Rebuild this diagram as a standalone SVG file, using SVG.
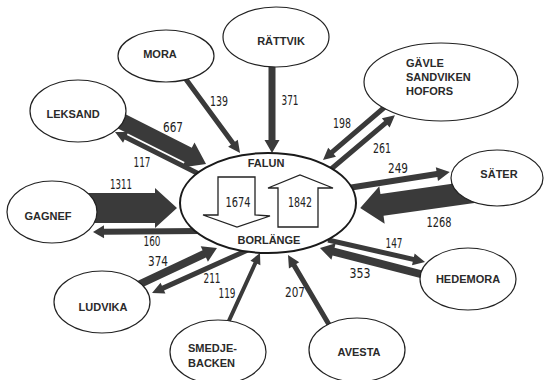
<svg xmlns="http://www.w3.org/2000/svg" width="546" height="380" viewBox="0 0 546 380">
<style>
.bg{fill:#fff}
.node{fill:#fff;stroke:#222;stroke-width:1.2}
.hub{fill:#fff;stroke:#1a1a1a;stroke-width:2}
.arr{fill:#3a3a3a}
.inner{fill:#fff;stroke:#222;stroke-width:1.3}
.lbl{font-family:"Liberation Sans",Arial,sans-serif;font-weight:bold;font-size:11px;fill:#2a2a2a;text-anchor:middle}
.lbll{font-family:"Liberation Sans",Arial,sans-serif;font-weight:bold;font-size:11px;fill:#2a2a2a}
.num{font-family:"Liberation Sans Narrow","DejaVu Sans Condensed","Liberation Sans",sans-serif;font-size:14px;fill:#222;text-anchor:middle}
</style>
<rect class="bg" x="0" y="0" width="546" height="380"/>
<g id="connectors">
  <polygon class="arr" transform="translate(185,78) rotate(53.7)" points="0,-2.5 81,-2.5 81,-6 93,0 81,6 81,2.5 0,2.5"/>
  <polygon class="arr" transform="translate(272,62) rotate(90)" points="0,-3.5 78,-3.5 78,-7.5 91,0 78,7.5 78,3.5 0,3.5"/>
  <polygon class="arr" transform="translate(386,106) rotate(139.4)" points="0,-2.5 71,-2.5 71,-6 83,0 71,6 71,2.5 0,2.5"/>
  <polygon class="arr" transform="translate(330,170) rotate(-40.2)" points="0,-2.5 73,-2.5 73,-6 85,0 73,6 73,2.5 0,2.5"/>
  <polygon class="arr" transform="translate(348,188) rotate(-8.9)" points="0,-3 90,-3 90,-7 103,0 90,7 90,3 0,3"/>
  <polygon class="arr" transform="translate(480,191) rotate(171.9)" points="0,-11 99,-11 99,-19 121,0 99,19 99,11 0,11"/>
  <polygon class="arr" transform="translate(328,240) rotate(12.8)" points="0,-2.5 87.5,-2.5 87.5,-6 99.5,0 87.5,6 87.5,2.5 0,2.5"/>
  <polygon class="arr" transform="translate(432,277) rotate(-165.5)" points="0,-4 101.7,-4 101.7,-8.5 115.7,0 101.7,8.5 101.7,4 0,4"/>
  <polygon class="arr" transform="translate(331,328) rotate(-120.5)" points="0,-2.5 72.7,-2.5 72.7,-6 84.7,0 72.7,6 72.7,2.5 0,2.5"/>
  <polygon class="arr" transform="translate(227,325) rotate(-65.4)" points="0,-2 68.2,-2 68.2,-5.5 79.2,0 68.2,5.5 68.2,2 0,2"/>
  <polygon class="arr" transform="translate(250,249) rotate(155.8)" points="0,-2.5 95.4,-2.5 95.4,-6 107.4,0 95.4,6 95.4,2.5 0,2.5"/>
  <polygon class="arr" transform="translate(138,285) rotate(-25.1)" points="0,-4 73.2,-4 73.2,-8.5 87.2,0 73.2,8.5 73.2,4 0,4"/>
  <polygon class="arr" transform="translate(200,231) rotate(179.5)" points="0,-3 96,-3 96,-6.5 107,0 96,6.5 96,3 0,3"/>
  <polygon class="arr" transform="translate(80,208)" points="0,-15 75,-15 75,-20 97,0 75,20 75,15 0,15"/>
  <polygon class="arr" transform="translate(115,118) rotate(26.8)" points="0,-8 82,-8 82,-14 102,0 82,14 82,8 0,8"/>
  <polygon class="arr" transform="translate(203,176) rotate(-153.4)" points="0,-2.5 86.4,-2.5 86.4,-6 98.4,0 86.4,6 86.4,2.5 0,2.5"/>
  <text class="num" x="219" y="106" textLength="18" lengthAdjust="spacingAndGlyphs">139</text>
  <text class="num" x="290" y="105" textLength="17" lengthAdjust="spacingAndGlyphs">371</text>
  <text class="num" x="173" y="132" textLength="20" lengthAdjust="spacingAndGlyphs">667</text>
  <text class="num" x="142" y="167" textLength="17" lengthAdjust="spacingAndGlyphs">117</text>
  <text class="num" x="121" y="189" textLength="22" lengthAdjust="spacingAndGlyphs">1311</text>
  <text class="num" x="152" y="246" textLength="17" lengthAdjust="spacingAndGlyphs">160</text>
  <text class="num" x="342" y="128" textLength="18" lengthAdjust="spacingAndGlyphs">198</text>
  <text class="num" x="382" y="153" textLength="18" lengthAdjust="spacingAndGlyphs">261</text>
  <text class="num" x="398" y="173" textLength="20" lengthAdjust="spacingAndGlyphs">249</text>
  <text class="num" x="439" y="227" textLength="25" lengthAdjust="spacingAndGlyphs">1268</text>
  <text class="num" x="394" y="248" textLength="17" lengthAdjust="spacingAndGlyphs">147</text>
  <text class="num" x="360" y="278" textLength="21" lengthAdjust="spacingAndGlyphs">353</text>
  <text class="num" x="295" y="297" textLength="20" lengthAdjust="spacingAndGlyphs">207</text>
  <text class="num" x="227" y="298" textLength="17" lengthAdjust="spacingAndGlyphs">119</text>
  <text class="num" x="212" y="283" textLength="17" lengthAdjust="spacingAndGlyphs">211</text>
  <text class="num" x="158" y="266" textLength="20" lengthAdjust="spacingAndGlyphs">374</text>
</g>
<g id="falun-borlange">
  <ellipse class="hub" cx="268" cy="203" rx="88" ry="50"/>
  <text class="lbl" x="266" y="167">FALUN</text>
  <text class="lbl" x="269" y="244">BORLÄNGE</text>
  <polygon class="inner" points="218,177 255,177 255,215 270,216 237,227 203,215 218,215"/>
  <polygon class="inner" points="278,227 318,227 318,188 333,188 300,175 268,188 278,188"/>
  <text class="num" x="238" y="207" textLength="25" lengthAdjust="spacingAndGlyphs">1674</text>
  <text class="num" x="300" y="207" textLength="24" lengthAdjust="spacingAndGlyphs">1842</text>
</g>
<g id="mora">
  <ellipse class="node" cx="166" cy="56" rx="48" ry="26"/>
  <text class="lbl" x="160" y="58">MORA</text>
</g>
<g id="rattvik">
  <ellipse class="node" cx="276" cy="37" rx="53" ry="30"/>
  <text class="lbl" x="281" y="45">RÄTTVIK</text>
</g>
<g id="gavle">
  <ellipse class="node" cx="441" cy="82" rx="77" ry="39"/>
  <text class="lbll" x="406" y="67">GÄVLE</text>
  <text class="lbll" x="406" y="81">SANDVIKEN</text>
  <text class="lbll" x="406" y="95">HOFORS</text>
</g>
<g id="leksand">
  <ellipse class="node" cx="78" cy="111" rx="48" ry="31"/>
  <text class="lbl" x="73" y="118">LEKSAND</text>
</g>
<g id="gagnef">
  <ellipse class="node" cx="52" cy="212" rx="45" ry="31"/>
  <text class="lbl" x="48" y="220">GAGNEF</text>
</g>
<g id="sater">
  <ellipse class="node" cx="497" cy="178" rx="46" ry="28"/>
  <text class="lbl" x="499" y="178">SÄTER</text>
</g>
<g id="hedemora">
  <ellipse class="node" cx="468" cy="279" rx="48" ry="31"/>
  <text class="lbl" x="468" y="283">HEDEMORA</text>
</g>
<g id="avesta">
  <ellipse class="node" cx="357" cy="350" rx="48" ry="32"/>
  <text class="lbl" x="359" y="356">AVESTA</text>
</g>
<g id="ludvika">
  <ellipse class="node" cx="102" cy="302" rx="48" ry="31"/>
  <text class="lbl" x="103" y="311">LUDVIKA</text>
</g>
<g id="smedjebacken">
  <ellipse class="node" cx="218" cy="352" rx="48" ry="32"/>
  <text class="lbll" x="188" y="352">SMEDJE-</text>
  <text class="lbll" x="188" y="367">BACKEN</text>
</g>
</svg>
